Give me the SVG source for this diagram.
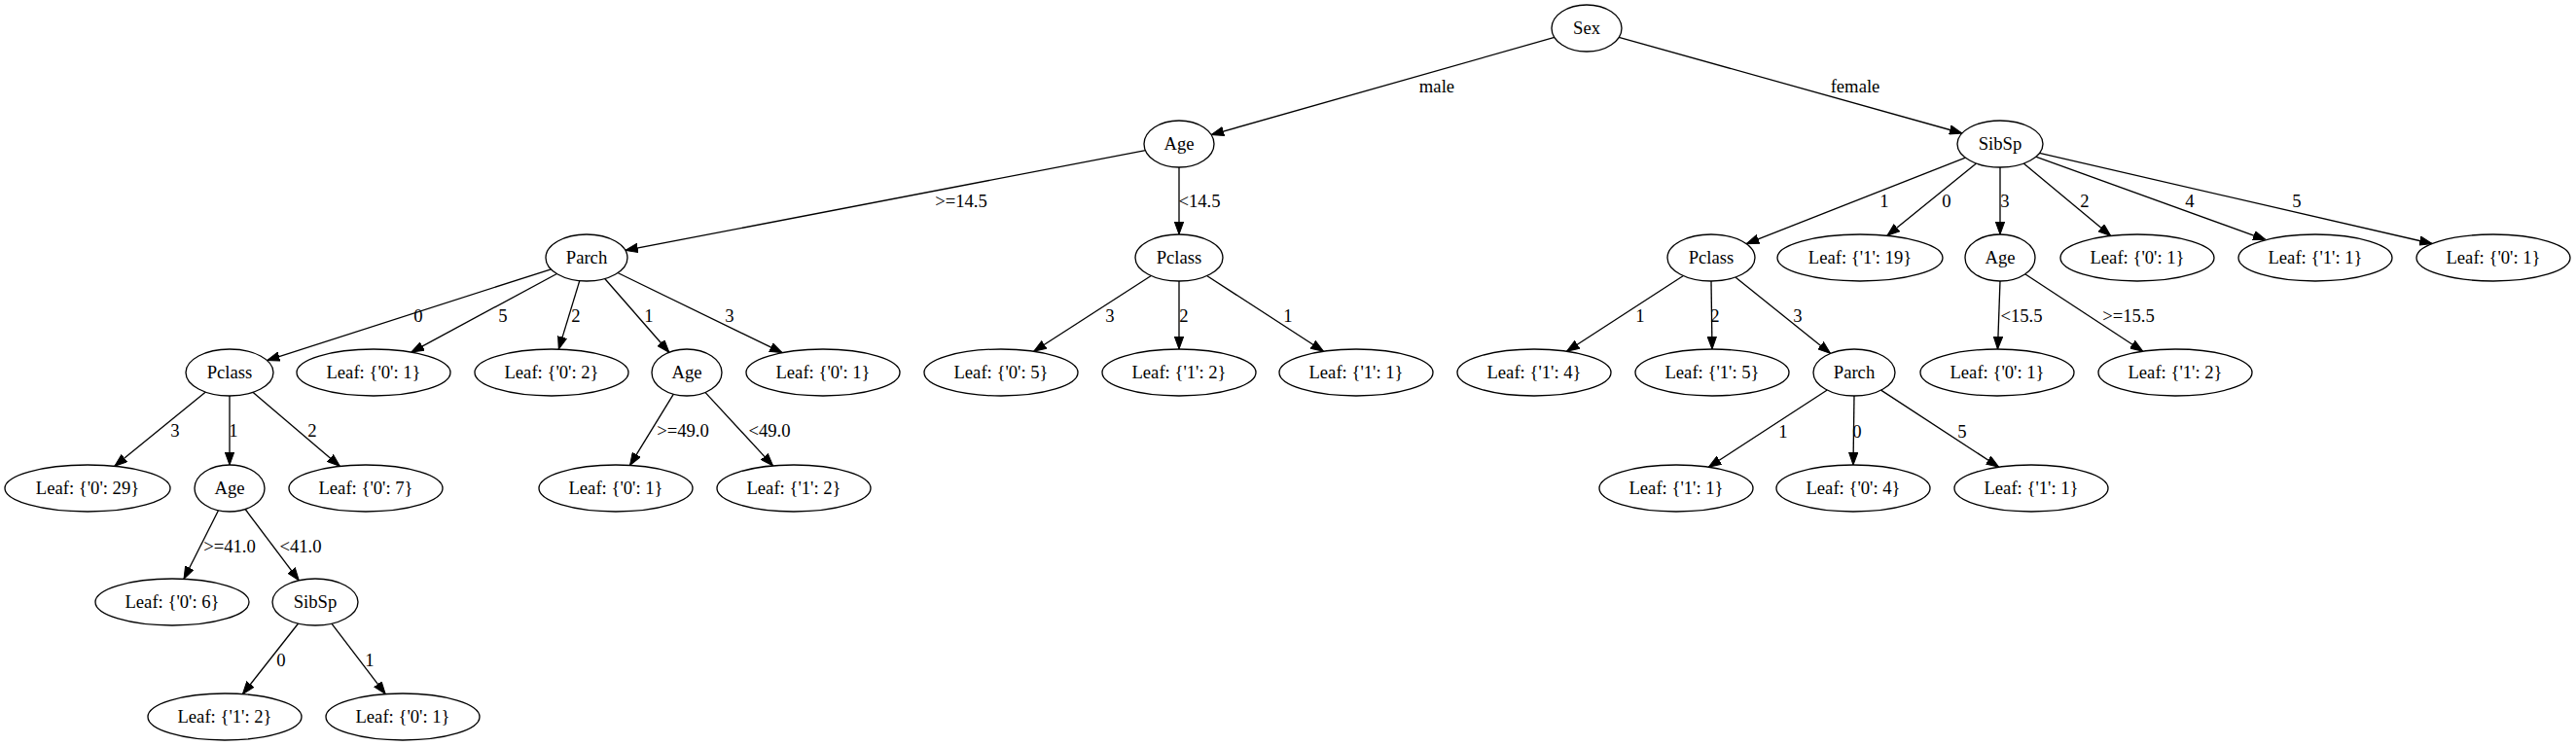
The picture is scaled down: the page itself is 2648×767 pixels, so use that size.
<svg xmlns="http://www.w3.org/2000/svg" width="2648" height="767" viewBox="0 0 2648 767" font-family="'Liberation Serif', 'Times New Roman', serif">
<style>
.n ellipse{fill:#fff;stroke:#000;stroke-width:1.33}
text{font-family:'Liberation Serif','Times New Roman',serif;font-size:18.67px;fill:#000;text-anchor:middle}
#edges line{stroke:#000;stroke-width:1.33;fill:none;marker-end:url(#arr)}
</style>
<defs>
<marker id="arr" viewBox="0 0 13 10" refX="13" refY="5" markerWidth="13" markerHeight="10" markerUnits="userSpaceOnUse" orient="auto">
<path d="M0,0.3 L13,5 L0,9.7 z" fill="#000" stroke="#000" stroke-width="1"/>
</marker>
</defs>
<rect width="2648" height="767" fill="#fff"/>
<g id="edges">
<line x1="1597.9" y1="38.4" x2="1245.1" y2="138.6"/>
<line x1="1664.2" y1="38.3" x2="2016.9" y2="137"/>
<line x1="1177.4" y1="154.6" x2="642.8" y2="257.4"/>
<line x1="1212" y1="172" x2="1212" y2="241"/>
<line x1="566.4" y1="276.8" x2="274.5" y2="370.6"/>
<line x1="572.4" y1="281.5" x2="422.8" y2="362.1"/>
<line x1="595.8" y1="288.6" x2="574.3" y2="359.1"/>
<line x1="621.7" y1="286.5" x2="687.9" y2="362.3"/>
<line x1="635" y1="280.5" x2="804.1" y2="362.7"/>
<line x1="1183.3" y1="283.5" x2="1062.7" y2="361.3"/>
<line x1="1212" y1="289" x2="1212" y2="359"/>
<line x1="1240.6" y1="283.5" x2="1360.5" y2="361.3"/>
<line x1="2020.3" y1="162.1" x2="1795.2" y2="250.7"/>
<line x1="2031.5" y1="167.9" x2="1939.9" y2="242.3"/>
<line x1="2056" y1="172" x2="2056" y2="241"/>
<line x1="2080.2" y1="168.1" x2="2169.8" y2="242.5"/>
<line x1="2092.7" y1="161.2" x2="2329.1" y2="246.6"/>
<line x1="2096.5" y1="157.4" x2="2500.1" y2="250.5"/>
<line x1="1730.4" y1="283.5" x2="1610.5" y2="361.3"/>
<line x1="1759" y1="289" x2="1760" y2="359"/>
<line x1="1783.9" y1="285" x2="1881.6" y2="363.4"/>
<line x1="2056" y1="289" x2="2053.5" y2="359"/>
<line x1="2081.7" y1="281.8" x2="2202.8" y2="361.2"/>
<line x1="211.4" y1="403.1" x2="117.8" y2="479.3"/>
<line x1="236" y1="407" x2="236" y2="478"/>
<line x1="259.9" y1="403.3" x2="349.4" y2="479.4"/>
<line x1="692.4" y1="405.2" x2="647.5" y2="478.4"/>
<line x1="724.9" y1="403.4" x2="794.6" y2="478.9"/>
<line x1="1878.3" y1="401" x2="1756.4" y2="480.3"/>
<line x1="1906" y1="407" x2="1905" y2="478"/>
<line x1="1933.6" y1="401.1" x2="2054.7" y2="480.2"/>
<line x1="224.5" y1="524.7" x2="189" y2="595.3"/>
<line x1="252.1" y1="523.5" x2="307.3" y2="596.8"/>
<line x1="306.6" y1="641" x2="249.4" y2="713.7"/>
<line x1="340.9" y1="641.2" x2="396.2" y2="713.6"/>
<g class="lbl" font-family="'Liberation Serif', 'Times New Roman', serif">
<text x="1477" y="95">male</text>
<text x="1907" y="95">female</text>
<text x="988" y="213">&gt;=14.5</text>
<text x="1233" y="213">&lt;14.5</text>
<text x="430" y="331">0</text>
<text x="517" y="331">5</text>
<text x="592" y="331">2</text>
<text x="667" y="331">1</text>
<text x="750" y="331">3</text>
<text x="1141" y="331">3</text>
<text x="1217" y="331">2</text>
<text x="1324" y="331">1</text>
<text x="1937" y="213">1</text>
<text x="2001" y="213">0</text>
<text x="2061" y="213">3</text>
<text x="2143" y="213">2</text>
<text x="2251" y="213">4</text>
<text x="2361" y="213">5</text>
<text x="1686" y="331">1</text>
<text x="1763" y="331">2</text>
<text x="1848" y="331">3</text>
<text x="2078" y="331">&lt;15.5</text>
<text x="2188" y="331">&gt;=15.5</text>
<text x="180" y="449">3</text>
<text x="240" y="449">1</text>
<text x="321" y="449">2</text>
<text x="702" y="449">&gt;=49.0</text>
<text x="791" y="449">&lt;49.0</text>
<text x="1833" y="450">1</text>
<text x="1909" y="450">0</text>
<text x="2017" y="450">5</text>
<text x="236" y="568">&gt;=41.0</text>
<text x="309" y="568">&lt;41.0</text>
<text x="289" y="685">0</text>
<text x="380" y="685">1</text>
</g>
</g>
<g id="n0" class="n"><ellipse cx="1631" cy="29" rx="36" ry="24"/><text x="1631" y="35">Sex</text></g>
<g id="n1" class="n"><ellipse cx="1212" cy="148" rx="36" ry="24"/><text x="1212" y="154">Age</text></g>
<g id="n2" class="n"><ellipse cx="2056" cy="148" rx="44" ry="24"/><text x="2056" y="154">SibSp</text></g>
<g id="n3" class="n"><ellipse cx="603" cy="265" rx="42" ry="24"/><text x="603" y="271">Parch</text></g>
<g id="n4" class="n"><ellipse cx="1212" cy="265" rx="45" ry="24"/><text x="1212" y="271">Pclass</text></g>
<g id="n5" class="n"><ellipse cx="1759" cy="265" rx="45" ry="24"/><text x="1759" y="271">Pclass</text></g>
<g id="n6" class="n"><ellipse cx="1912" cy="265" rx="85" ry="24"/><text x="1912" y="271">Leaf: {'1': 19}</text></g>
<g id="n7" class="n"><ellipse cx="2056" cy="265" rx="36" ry="24"/><text x="2056" y="271">Age</text></g>
<g id="n8" class="n"><ellipse cx="2197" cy="265" rx="79" ry="24"/><text x="2197" y="271">Leaf: {'0': 1}</text></g>
<g id="n9" class="n"><ellipse cx="2380" cy="265" rx="79" ry="24"/><text x="2380" y="271">Leaf: {'1': 1}</text></g>
<g id="n10" class="n"><ellipse cx="2563" cy="265" rx="79" ry="24"/><text x="2563" y="271">Leaf: {'0': 1}</text></g>
<g id="n11" class="n"><ellipse cx="236" cy="383" rx="45" ry="24"/><text x="236" y="389">Pclass</text></g>
<g id="n12" class="n"><ellipse cx="384" cy="383" rx="79" ry="24"/><text x="384" y="389">Leaf: {'0': 1}</text></g>
<g id="n13" class="n"><ellipse cx="567" cy="383" rx="79" ry="24"/><text x="567" y="389">Leaf: {'0': 2}</text></g>
<g id="n14" class="n"><ellipse cx="706" cy="383" rx="36" ry="24"/><text x="706" y="389">Age</text></g>
<g id="n15" class="n"><ellipse cx="846" cy="383" rx="79" ry="24"/><text x="846" y="389">Leaf: {'0': 1}</text></g>
<g id="n16" class="n"><ellipse cx="1029" cy="383" rx="79" ry="24"/><text x="1029" y="389">Leaf: {'0': 5}</text></g>
<g id="n17" class="n"><ellipse cx="1212" cy="383" rx="79" ry="24"/><text x="1212" y="389">Leaf: {'1': 2}</text></g>
<g id="n18" class="n"><ellipse cx="1394" cy="383" rx="79" ry="24"/><text x="1394" y="389">Leaf: {'1': 1}</text></g>
<g id="n19" class="n"><ellipse cx="1577" cy="383" rx="79" ry="24"/><text x="1577" y="389">Leaf: {'1': 4}</text></g>
<g id="n20" class="n"><ellipse cx="1760" cy="383" rx="79" ry="24"/><text x="1760" y="389">Leaf: {'1': 5}</text></g>
<g id="n21" class="n"><ellipse cx="1906" cy="383" rx="42" ry="24"/><text x="1906" y="389">Parch</text></g>
<g id="n22" class="n"><ellipse cx="2053" cy="383" rx="79" ry="24"/><text x="2053" y="389">Leaf: {'0': 1}</text></g>
<g id="n23" class="n"><ellipse cx="2236" cy="383" rx="79" ry="24"/><text x="2236" y="389">Leaf: {'1': 2}</text></g>
<g id="n24" class="n"><ellipse cx="90" cy="502" rx="85" ry="24"/><text x="90" y="508">Leaf: {'0': 29}</text></g>
<g id="n25" class="n"><ellipse cx="236" cy="502" rx="36" ry="24"/><text x="236" y="508">Age</text></g>
<g id="n26" class="n"><ellipse cx="376" cy="502" rx="79" ry="24"/><text x="376" y="508">Leaf: {'0': 7}</text></g>
<g id="n27" class="n"><ellipse cx="633" cy="502" rx="79" ry="24"/><text x="633" y="508">Leaf: {'0': 1}</text></g>
<g id="n28" class="n"><ellipse cx="816" cy="502" rx="79" ry="24"/><text x="816" y="508">Leaf: {'1': 2}</text></g>
<g id="n29" class="n"><ellipse cx="1723" cy="502" rx="79" ry="24"/><text x="1723" y="508">Leaf: {'1': 1}</text></g>
<g id="n30" class="n"><ellipse cx="1905" cy="502" rx="79" ry="24"/><text x="1905" y="508">Leaf: {'0': 4}</text></g>
<g id="n31" class="n"><ellipse cx="2088" cy="502" rx="79" ry="24"/><text x="2088" y="508">Leaf: {'1': 1}</text></g>
<g id="n32" class="n"><ellipse cx="177" cy="619" rx="79" ry="24"/><text x="177" y="625">Leaf: {'0': 6}</text></g>
<g id="n33" class="n"><ellipse cx="324" cy="619" rx="44" ry="24"/><text x="324" y="625">SibSp</text></g>
<g id="n34" class="n"><ellipse cx="231" cy="737" rx="79" ry="24"/><text x="231" y="743">Leaf: {'1': 2}</text></g>
<g id="n35" class="n"><ellipse cx="414" cy="737" rx="79" ry="24"/><text x="414" y="743">Leaf: {'0': 1}</text></g>
</svg>
